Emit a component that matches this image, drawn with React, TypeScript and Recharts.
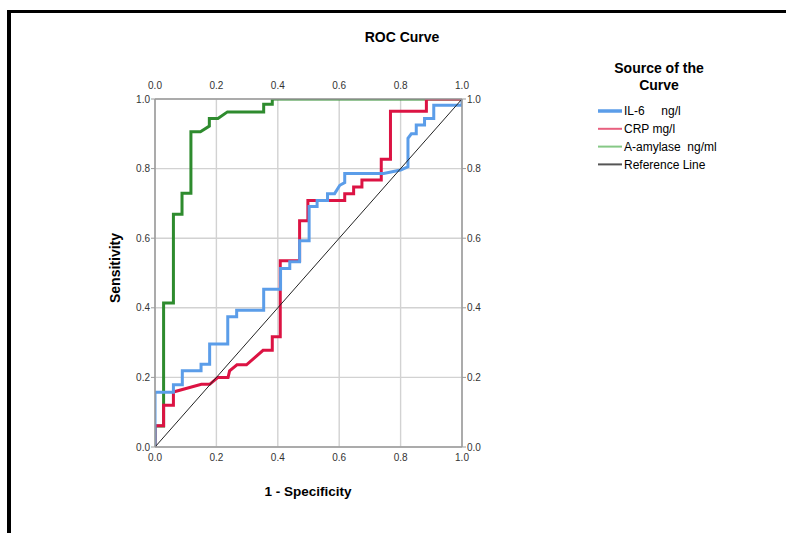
import React from 'react';
import { LineChart, Line, XAxis, YAxis, CartesianGrid } from 'recharts';

const axisTicks = [0, 0.2, 0.4, 0.6, 0.8, 1.0];

const amyFpr = [0, 0, 0.028, 0.028, 0.06, 0.06, 0.088, 0.088, 0.117, 0.117, 0.148, 0.177, 0.177, 0.205, 0.236, 0.354, 0.354, 0.382, 0.382, 1.0];
const amyTpr = [0, 0.06, 0.06, 0.414, 0.414, 0.669, 0.669, 0.729, 0.729, 0.906, 0.906, 0.922, 0.944, 0.944, 0.963, 0.963, 0.985, 0.985, 1.0, 1.0];

const crpFpr = [0, 0, 0.028, 0.028, 0.06, 0.06, 0.151, 0.178, 0.205, 0.238, 0.243, 0.267, 0.298, 0.352, 0.382, 0.382, 0.408, 0.408, 0.471, 0.471, 0.498, 0.498, 0.618, 0.618, 0.647, 0.647, 0.674, 0.674, 0.737, 0.737, 0.767, 0.767, 0.884, 0.884, 1.0];
const crpTpr = [0, 0.061, 0.061, 0.12, 0.12, 0.158, 0.18, 0.18, 0.2, 0.2, 0.219, 0.236, 0.236, 0.278, 0.278, 0.317, 0.317, 0.535, 0.535, 0.65, 0.65, 0.708, 0.708, 0.728, 0.728, 0.747, 0.747, 0.767, 0.767, 0.827, 0.827, 0.965, 0.965, 1.0, 1.0];

const il6Fpr = [0, 0, 0.06, 0.06, 0.089, 0.089, 0.15, 0.15, 0.178, 0.178, 0.237, 0.237, 0.266, 0.266, 0.354, 0.354, 0.409, 0.409, 0.439, 0.439, 0.471, 0.471, 0.502, 0.502, 0.528, 0.528, 0.562, 0.562, 0.585, 0.602, 0.618, 0.618, 0.745, 0.8, 0.824, 0.824, 0.835, 0.851, 0.851, 0.878, 0.878, 0.908, 0.908, 1.0, 1.0];
const il6Tpr = [0, 0.157, 0.157, 0.179, 0.179, 0.219, 0.219, 0.238, 0.238, 0.296, 0.296, 0.374, 0.374, 0.393, 0.393, 0.453, 0.453, 0.513, 0.513, 0.532, 0.532, 0.593, 0.593, 0.691, 0.691, 0.708, 0.708, 0.728, 0.728, 0.752, 0.76, 0.786, 0.786, 0.796, 0.805, 0.887, 0.9, 0.9, 0.925, 0.925, 0.944, 0.944, 0.982, 0.982, 1.0];

const refFpr = [0, 1];
const refTpr = [0, 1];

const legendNames = ['IL-6     ng/l', 'CRP mg/l', 'A-amylase  ng/ml', 'Reference Line'];
const legendColors = ['#5b9de9', '#e8607f', '#86c886', '#555555'];
const legendWidths = [3.5, 2, 2, 2];

const toPoints = (xs: number[], ys: number[]) => xs.map((x, i) => ({ x, y: ys[i] }));

const amyData = toPoints(amyFpr, amyTpr);
const crpData = toPoints(crpFpr, crpTpr);
const il6Data = toPoints(il6Fpr, il6Tpr);
const refData = toPoints(refFpr, refTpr);

const FONT = '"Liberation Sans", Arial, sans-serif';
const tickStyle = { fontSize: 10, fill: '#333', fontFamily: FONT };
const fmt = (v: number) => v.toFixed(1);

export default function App() {
  return (
    <div style={{ position: 'absolute', left: 0, top: 0, width: 786, height: 533, background: '#fff', overflow: 'hidden' }}>
      <div style={{ position: 'absolute', left: 7, top: 10, width: 779, height: 3, background: '#000' }} />
      <div style={{ position: 'absolute', left: 7, top: 10, width: 4, height: 523, background: '#000' }} />
      <div style={{ position: 'absolute', left: 0, top: 0 }}>
        <LineChart width={786} height={533} margin={{ top: 79, right: 294, bottom: 66, left: 115 }}>
          <CartesianGrid xAxisId="b" yAxisId="l" stroke="#d2d2d2" strokeWidth={1.4} />
          <XAxis xAxisId="b" orientation="bottom" dataKey="x" type="number" domain={[0, 1]} allowDataOverflow ticks={axisTicks} tickFormatter={fmt} height={20} tick={tickStyle} tickLine={false} tickSize={4} tickMargin={3} axisLine={{ stroke: '#9a9a9a', strokeWidth: 1.5 }} interval={0} />
          <XAxis xAxisId="t" orientation="top" dataKey="x" type="number" domain={[0, 1]} allowDataOverflow ticks={axisTicks} tickFormatter={fmt} height={20} tick={tickStyle} tickLine={false} tickSize={4} tickMargin={6} axisLine={{ stroke: '#9a9a9a', strokeWidth: 1.5 }} interval={0} />
          <YAxis yAxisId="l" orientation="left" dataKey="y" type="number" domain={[0, 1]} allowDataOverflow ticks={axisTicks} tickFormatter={fmt} width={40} tick={tickStyle} tickLine={{ stroke: '#9a9a9a' }} tickSize={4} tickMargin={1} axisLine={{ stroke: '#9a9a9a', strokeWidth: 1.5 }} interval={0} />
          <YAxis yAxisId="r" orientation="right" dataKey="y" type="number" domain={[0, 1]} allowDataOverflow ticks={axisTicks} tickFormatter={fmt} width={30} tick={tickStyle} tickLine={{ stroke: '#9a9a9a' }} tickSize={4} tickMargin={1} axisLine={{ stroke: '#9a9a9a', strokeWidth: 1.5 }} interval={0} />
          <Line xAxisId="b" yAxisId="l" data={amyData} dataKey="y" type="linear" stroke="#2e8b2e" strokeWidth={3} dot={false} activeDot={false} isAnimationActive={false} />
          <Line xAxisId="b" yAxisId="l" data={crpData} dataKey="y" type="linear" stroke="#dc1343" strokeWidth={3} dot={false} activeDot={false} isAnimationActive={false} />
          <Line xAxisId="b" yAxisId="l" data={il6Data} dataKey="y" type="linear" stroke="#5b9de9" strokeWidth={3} dot={false} activeDot={false} isAnimationActive={false} />
          <Line xAxisId="t" yAxisId="r" data={refData} dataKey="y" type="linear" stroke="#222" strokeWidth={1} dot={false} activeDot={false} isAnimationActive={false} />
        </LineChart>
      </div>
      <svg width={786} height={533} style={{ position: 'absolute', left: 0, top: 0, pointerEvents: 'none' }}>
        <text x={402} y={42} textAnchor="middle" fontFamily={FONT} fontWeight="bold" fontSize={14} fill="#000">ROC Curve</text>
        <text x={308} y={496} textAnchor="middle" fontFamily={FONT} fontWeight="bold" fontSize={13.5} fill="#000">1 - Specificity</text>
        <text x={120} y={268} textAnchor="middle" fontFamily={FONT} fontWeight="bold" fontSize={14} fill="#000" transform="rotate(-90 120 268)">Sensitivity</text>
        <text x={659} y={73} textAnchor="middle" fontFamily={FONT} fontWeight="bold" fontSize={14} fill="#000">Source of the</text>
        <text x={659} y={90} textAnchor="middle" fontFamily={FONT} fontWeight="bold" fontSize={14} fill="#000">Curve</text>
        {legendNames.map((name, i) => {
          const cy = 111 + i * 17.8;
          return (
            <g key={name}>
              <line x1={598} x2={622} y1={cy} y2={cy} stroke={legendColors[i]} strokeWidth={legendWidths[i]} />
              <text x={624} y={cy + 4.2} fontFamily={FONT} fontSize={12} fill="#000" style={{ whiteSpace: 'pre' }} xmlSpace="preserve">{name}</text>
            </g>
          );
        })}
      </svg>
    </div>
  );
}
